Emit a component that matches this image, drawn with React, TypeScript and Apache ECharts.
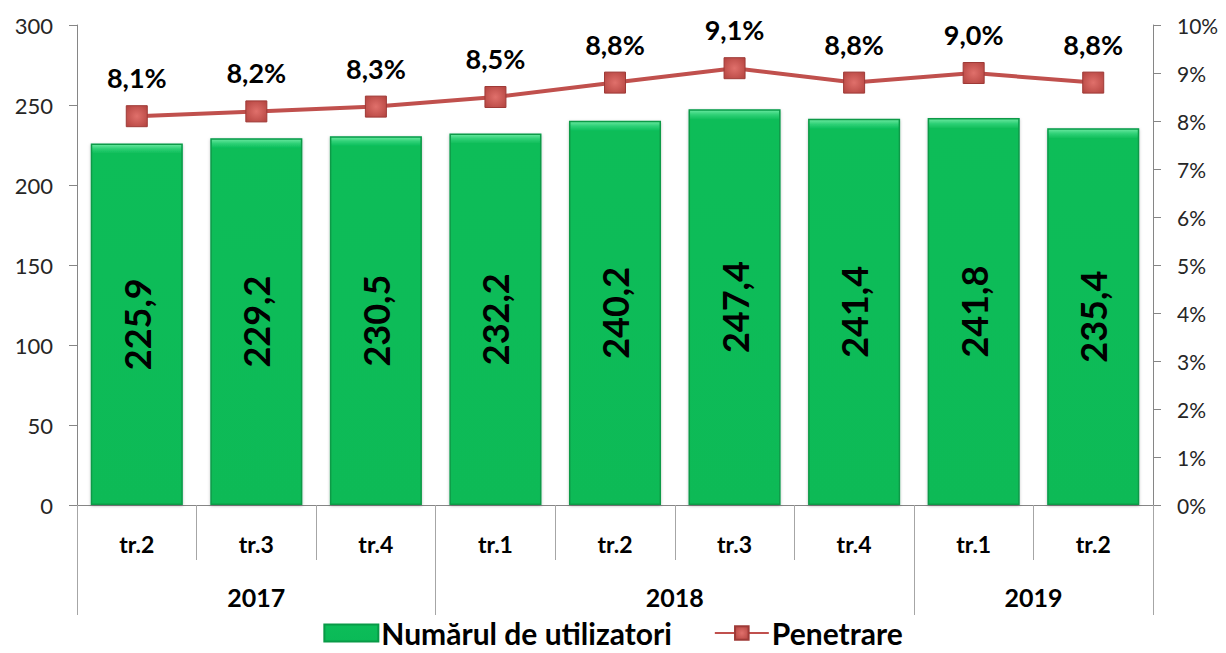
import React, { useEffect, useRef } from "react";
import * as echarts from "echarts";

const categories = ["tr.2", "tr.3", "tr.4", "tr.1", "tr.2", "tr.3", "tr.4", "tr.1", "tr.2"];
const years = ["2017", "2018", "2019"];
const yearBounds = [0, 3, 7, 9];
const users = [225.9, 229.2, 230.5, 232.2, 240.2, 247.4, 241.4, 241.8, 235.4];
const penetration = [8.1, 8.2, 8.3, 8.5, 8.8, 9.1, 8.8, 9.0, 8.8];

const FONT = "Lato";
const fmt = (v: number) => v.toFixed(1).replace(".", ",");

export default function App() {
  const ref = useRef<HTMLDivElement>(null);
  useEffect(() => {
    const chart = echarts.init(ref.current!, null, { renderer: "svg" });
    const yearCenters = years.map((_, i) => (yearBounds[i] + yearBounds[i + 1]) / 2);
    chart.setOption({
      animation: false,
      textStyle: { fontFamily: FONT },
      grid: { left: 77, right: 73, top: 25, bottom: 148, containLabel: false },
      legend: {
        bottom: 0,
        left: "center",
        itemGap: 42,
        itemWidth: 54,
        itemHeight: 17,
        textStyle: { fontFamily: FONT, fontSize: 30, fontWeight: "bold", color: "#000", padding: [0, 0, 0, -2] },
        data: [
          { name: "Numărul de utilizatori", icon: "rect" },
          { name: "Penetrare" },
        ],
      },
      xAxis: [
        {
          type: "category",
          data: categories,
          position: "bottom",
          axisLine: { lineStyle: { color: "#868686", width: 1 } },
          axisTick: { show: true, alignWithLabel: false, length: 55, lineStyle: { color: "#A6A6A6" } },
          axisLabel: { margin: 27, fontSize: 23, fontWeight: "bold", color: "#000", fontFamily: FONT },
        },
        {
          type: "value",
          min: 0,
          max: 9,
          position: "bottom",
          splitLine: { show: false },
          axisLine: { show: false },
          axisTick: { show: true, length: 110, customValues: yearBounds, lineStyle: { color: "#A6A6A6" } },
          axisLabel: {
            customValues: yearCenters,
            margin: 79,
            fontSize: 25,
            fontWeight: "bold",
            color: "#000",
            fontFamily: FONT,
            formatter: (v: number) => {
              const i = yearCenters.indexOf(v);
              return i >= 0 ? years[i] : "";
            },
          },
        },
      ],
      yAxis: [
        {
          type: "value",
          min: 0,
          max: 300,
          interval: 50,
          splitLine: { show: false },
          axisLine: { show: true, lineStyle: { color: "#868686" } },
          axisTick: { show: true, length: 8, lineStyle: { color: "#868686" } },
          axisLabel: { fontSize: 22, color: "#262626", margin: 24, fontFamily: FONT },
        },
        {
          type: "value",
          min: 0,
          max: 10,
          interval: 1,
          position: "right",
          splitLine: { show: false },
          axisLine: { show: true, lineStyle: { color: "#868686" } },
          axisTick: { show: true, length: 8, lineStyle: { color: "#868686" } },
          axisLabel: { fontSize: 21, color: "#262626", margin: 24, fontFamily: FONT, formatter: "{value}%" },
        },
      ],
      series: [
        {
          name: "Numărul de utilizatori",
          type: "bar",
          data: users,
          xAxisIndex: 0,
          yAxisIndex: 0,
          barCategoryGap: "23%",
          itemStyle: {
            color: new echarts.graphic.LinearGradient(0, 0, 0, 1, [
              { offset: 0, color: "#6BE8A0" },
              { offset: 0.012, color: "#2FD177" },
              { offset: 0.025, color: "#0CBD59" },
              { offset: 1, color: "#0ABA57" },
            ]),
            borderColor: "#089A47",
            borderWidth: 1.5,
            shadowColor: "rgba(0,0,0,0.25)",
            shadowBlur: 3,
            shadowOffsetY: 1,
          },
          label: {
            show: true,
            position: "inside",
            rotate: 90,
            fontSize: 36,
            fontWeight: "bold",
            color: "#000",
            fontFamily: FONT,
            formatter: (p: any) => fmt(p.value),
          },
        },
        {
          name: "Penetrare",
          type: "line",
          data: penetration,
          xAxisIndex: 0,
          yAxisIndex: 1,
          symbol: "rect",
          symbolSize: 21,
          lineStyle: { color: "#C0504D", width: 4 },
          itemStyle: {
            color: new echarts.graphic.RadialGradient(0.5, 0.5, 0.7, [
              { offset: 0, color: "#E0706B" },
              { offset: 1, color: "#B2423E" },
            ]),
            borderColor: "#9E3A37",
            borderWidth: 1,
          },
          label: {
            show: true,
            position: "top",
            distance: 14,
            fontSize: 27,
            fontWeight: "bold",
            color: "#000",
            fontFamily: FONT,
            formatter: (p: any) => fmt(p.value) + "%",
          },
        },
      ],
    });
    return () => chart.dispose();
  }, []);
  return (
    <div
      ref={ref}
      style={{ position: "absolute", left: 0, top: 0, width: 1226, height: 653, background: "#fff" }}
    />
  );
}
